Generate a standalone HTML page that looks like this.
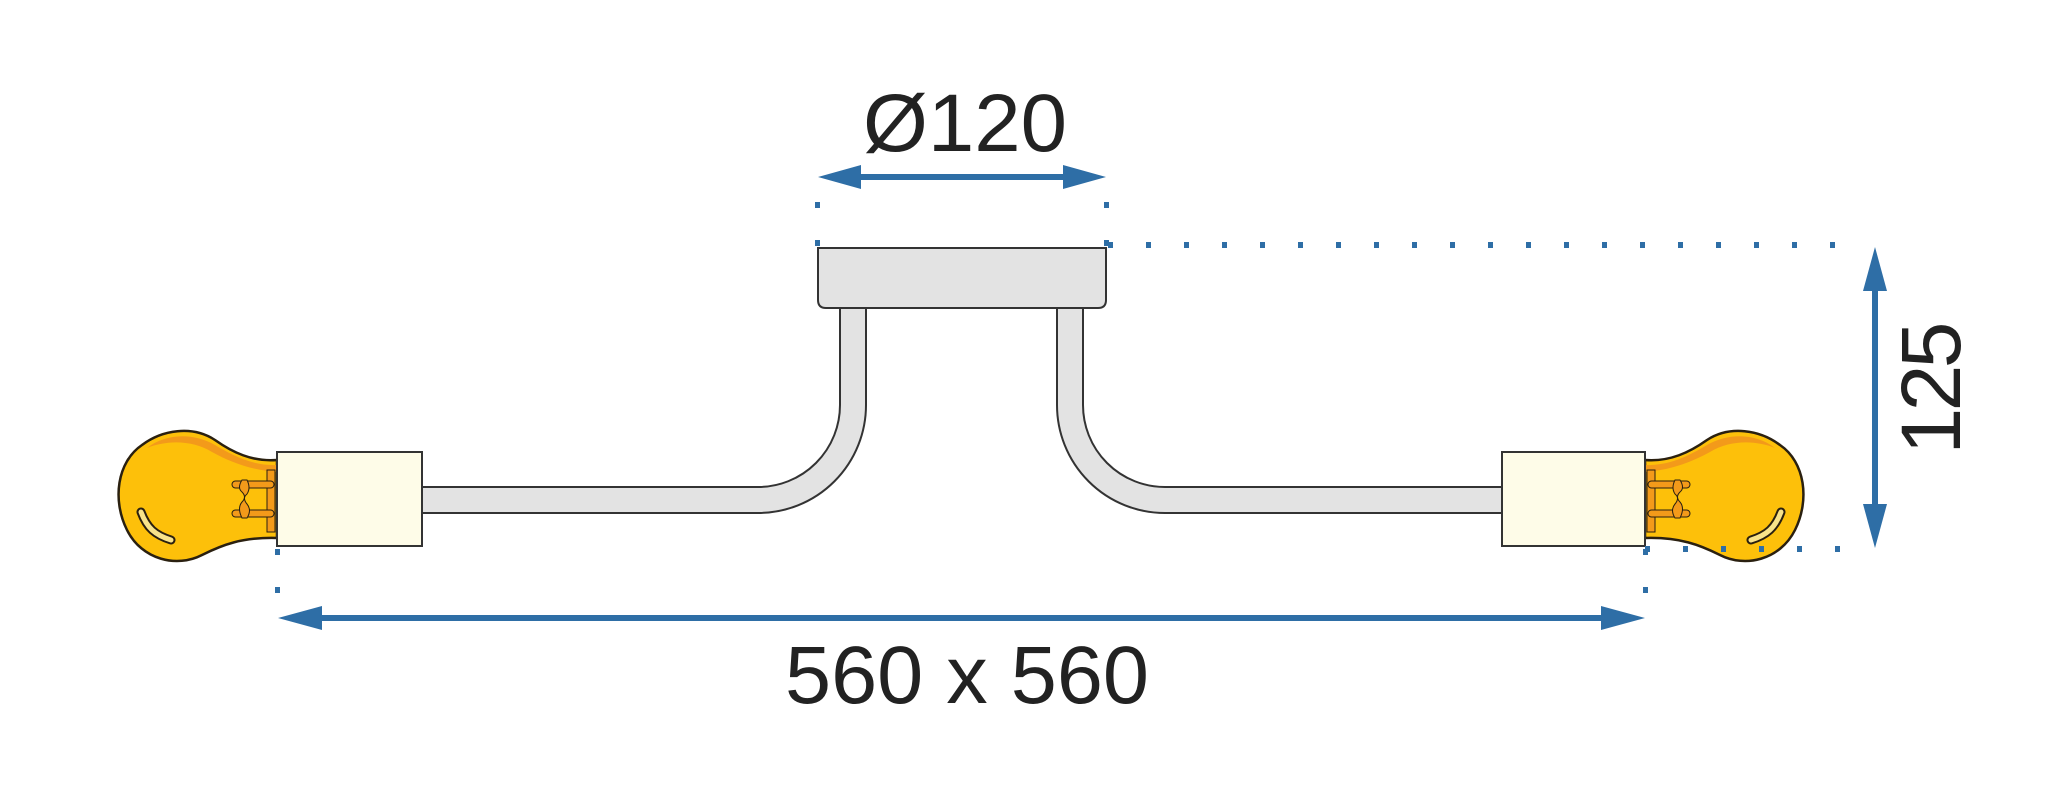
<!DOCTYPE html>
<html><head><meta charset="utf-8"><style>
html,body{margin:0;padding:0;background:#fff;}
svg{display:block;}
text{font-family:"Liberation Sans",sans-serif;fill:#222;}
</style></head><body>
<svg width="2049" height="800" viewBox="0 0 2049 800" xmlns="http://www.w3.org/2000/svg">
<defs>
<g id="bulb">
  <!-- bulb, socket side at x=0 pointing left -->
  <path d="M0,460 C-25,462 -45,452 -62,440 C-85,425 -115,430 -135,445 C-160,462 -165,500 -150,530 C-135,560 -100,568 -75,555 C-55,545 -35,537 0,538 Z" fill="#fdc00a" stroke="#2a2010" stroke-width="2.5"/>
  <path d="M0,465 C-25,466 -45,455 -62,445 C-85,432 -112,434 -130,448 C-110,440 -85,440 -65,452 C-45,463 -25,470 0,472 Z" fill="#f39a1a"/>
  <rect x="-10" y="470" width="8" height="62" fill="#f39a1a" stroke="#2a2010" stroke-width="1"/>
  <rect x="-45" y="481" width="42" height="7" rx="3.5" fill="#f39a1a" stroke="#2a2010" stroke-width="1"/>
  <rect x="-45" y="510" width="42" height="7" rx="3.5" fill="#f39a1a" stroke="#2a2010" stroke-width="1"/>
  <path d="M-35,480 q-5,8 0,12 q5,5 0,10 q-5,6 0,16 l5,0 q5,-8 0,-14 q-5,-6 0,-10 q4,-6 0,-14 Z" fill="#f39a1a" stroke="#2a2010" stroke-width="1"/>
  <path d="M-136,512 C-130,528 -122,535 -106,540" fill="none" stroke="#2a2010" stroke-width="9" stroke-linecap="round"/>
  <path d="M-136,512 C-130,528 -122,535 -106,540" fill="none" stroke="#f8e38a" stroke-width="5" stroke-linecap="round"/>
</g>
</defs>

<!-- rods -->
<path d="M422,487 L758,487 A82,82 0 0 0 840,405 L840,306 L866,306 L866,405 A108,108 0 0 1 758,513 L422,513 Z" fill="#e3e3e3" stroke="#333" stroke-width="2"/>
<path d="M1502,487 L1165,487 A82,82 0 0 1 1083,405 L1083,306 L1057,306 L1057,405 A108,108 0 0 0 1165,513 L1502,513 Z" fill="#e3e3e3" stroke="#333" stroke-width="2"/>

<!-- canopy -->
<path d="M818,248 L1106,248 L1106,300 Q1106,308 1098,308 L826,308 Q818,308 818,300 Z" fill="#e3e3e3" stroke="#333" stroke-width="2"/>

<!-- bulbs -->
<use href="#bulb" transform="translate(277,0)"/>
<use href="#bulb" transform="translate(1645,0) scale(-1,1)"/>

<!-- sockets -->
<rect x="277" y="452" width="145" height="94" fill="#fefce8" stroke="#333" stroke-width="2"/>
<rect x="1502" y="452" width="143" height="94" fill="#fefce8" stroke="#333" stroke-width="2"/>

<!-- dotted guides -->
<g fill="#2e6ea6">
  <rect x="815" y="202" width="5" height="6"/><rect x="1104" y="202" width="5" height="6"/>
  <rect x="815" y="240" width="5" height="6"/><rect x="1104" y="240" width="5" height="6"/>
  <rect x="275" y="549" width="5" height="6"/><rect x="1643" y="549" width="5" height="6"/>
  <rect x="275" y="587" width="5" height="6"/><rect x="1643" y="587" width="5" height="6"/>
</g>
<line x1="1108" y1="245" x2="1860" y2="245" stroke="#2e6ea6" stroke-width="6" stroke-dasharray="5 33"/>
<line x1="1645" y1="549" x2="1850" y2="549" stroke="#2e6ea6" stroke-width="6" stroke-dasharray="5 33"/>

<!-- arrows -->
<g fill="#2e6ea6">
  <rect x="855" y="174" width="215" height="6"/>
  <polygon points="818,177 861,165 861,189"/>
  <polygon points="1106,177 1063,165 1063,189"/>
  <rect x="315" y="615" width="1290" height="6"/>
  <polygon points="278,618 322,606 322,630"/>
  <polygon points="1645,618 1601,606 1601,630"/>
  <rect x="1872" y="285" width="6" height="228"/>
  <polygon points="1875,247 1863,291 1887,291"/>
  <polygon points="1875,548 1863,504 1887,504"/>
</g>

<!-- labels -->
<text x="965" y="151" font-size="82" text-anchor="middle" textLength="204" lengthAdjust="spacingAndGlyphs">Ø120</text>
<text x="967" y="703" font-size="82" text-anchor="middle" textLength="364" lengthAdjust="spacingAndGlyphs">560 x 560</text>
<text x="0" y="0" font-size="84" text-anchor="middle" textLength="133" lengthAdjust="spacing" transform="translate(1960,388) rotate(-90)">125</text>
</svg>
</body></html>
